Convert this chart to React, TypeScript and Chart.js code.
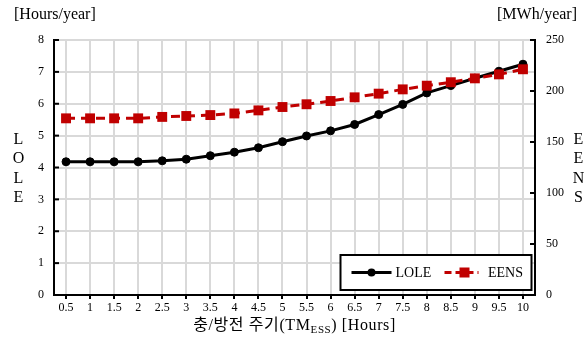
import React, { useEffect, useRef } from 'react';
import { Chart, registerables } from 'chart.js';

Chart.register(...registerables);

const categories = ['0.5', '1', '1.5', '2', '2.5', '3', '3.5', '4', '4.5', '5', '5.5', '6', '6.5', '7', '7.5', '8', '8.5', '9', '9.5', '10'];
const loleValues = [4.18, 4.18, 4.18, 4.18, 4.21, 4.26, 4.37, 4.48, 4.62, 4.81, 4.99, 5.15, 5.35, 5.66, 5.98, 6.34, 6.57, 6.8, 7.02, 7.24];
const eensValues = [173.2, 173.2, 173.2, 173.2, 174.6, 175.5, 176.4, 178, 181, 184.3, 187, 190.2, 193.8, 197.4, 201.6, 205.2, 208.6, 212.4, 216.3, 221.3];
const leftAxisMin = 0;
const leftAxisMax = 8;
const leftAxisStep = 1;
const rightAxisMin = 0;
const rightAxisMax = 250;
const rightAxisStep = 50;
const leftUnit = '[Hours/year]';
const rightUnit = '[MWh/year]';
const leftTitle = 'LOLE';
const rightTitle = 'EENS';
const xTitleMain = '충/방전 주기(TM';
const xTitleSub = 'ESS';
const xTitleTail = ') [Hours]';

const SERIF = "'Liberation Serif', 'Times New Roman', serif";
const XTITLE_FONT = "'Liberation Serif', 'Noto Sans CJK KR', serif";
const RED = '#c00000';

const decorPlugin = {
  id: 'decor',
  afterDraw(chart: any) {
    const { ctx, chartArea } = chart;
    const yScale = chart.scales.y;
    const y1Scale = chart.scales.y1;
    ctx.save();

    // inside tick marks
    ctx.strokeStyle = '#000';
    ctx.lineWidth = 2;
    yScale.ticks.forEach((t: any) => {
      const py = yScale.getPixelForValue(t.value);
      ctx.beginPath();
      ctx.moveTo(chartArea.left, py);
      ctx.lineTo(chartArea.left + 5, py);
      ctx.stroke();
    });
    y1Scale.ticks.forEach((t: any) => {
      const py = y1Scale.getPixelForValue(t.value);
      ctx.beginPath();
      ctx.moveTo(chartArea.right, py);
      ctx.lineTo(chartArea.right - 5, py);
      ctx.stroke();
    });

    // unit labels
    ctx.fillStyle = '#000';
    ctx.font = `16px ${SERIF}`;
    ctx.textBaseline = 'middle';
    ctx.textAlign = 'left';
    ctx.fillText(leftUnit, 14, 15);
    ctx.textAlign = 'right';
    ctx.fillText(rightUnit, 577, 15);

    // vertical stacked titles
    ctx.textAlign = 'center';
    const midY = (chartArea.top + chartArea.bottom) / 2 + 1.5;
    const sp = 19.5;
    for (let i = 0; i < leftTitle.length; i++) {
      ctx.fillText(leftTitle[i], 18.5, midY + (i - 1.5) * sp);
    }
    for (let i = 0; i < rightTitle.length; i++) {
      ctx.fillText(rightTitle[i], 578.5, midY + (i - 1.5) * sp);
    }

    // x title with subscript
    const mainFont = `16px ${XTITLE_FONT}`;
    const subFont = `11px ${XTITLE_FONT}`;
    (ctx as any).letterSpacing = '0.6px';
    ctx.font = mainFont;
    const w1 = ctx.measureText(xTitleMain).width;
    const w3 = ctx.measureText(xTitleTail).width;
    ctx.font = subFont;
    const w2 = ctx.measureText(xTitleSub).width;
    const total = w1 + w2 + w3;
    const cx = (chartArea.left + chartArea.right) / 2;
    let x = cx - total / 2;
    const ty = 326;
    ctx.textAlign = 'left';
    ctx.textBaseline = 'middle';
    ctx.font = mainFont;
    ctx.fillText(xTitleMain, x, ty);
    x += w1;
    ctx.font = subFont;
    ctx.fillText(xTitleSub, x, ty + 4.5);
    x += w2;
    ctx.font = mainFont;
    ctx.fillText(xTitleTail, x, ty);
    (ctx as any).letterSpacing = '0px';

    // legend box
    const ds = chart.data.datasets;
    const w = 191;
    const h = 35;
    const right = chartArea.right - 3.5;
    const bottom = chartArea.bottom - 5;
    const left = right - w;
    const top = bottom - h;
    ctx.fillStyle = '#fff';
    ctx.fillRect(left, top, w, h);
    ctx.strokeStyle = '#000';
    ctx.lineWidth = 2;
    ctx.strokeRect(left, top, w, h);
    const cy = top + h / 2;

    // LOLE sample
    ctx.strokeStyle = ds[0].borderColor;
    ctx.lineWidth = 3;
    ctx.beginPath();
    ctx.moveTo(left + 11, cy);
    ctx.lineTo(left + 51, cy);
    ctx.stroke();
    ctx.fillStyle = ds[0].borderColor;
    ctx.beginPath();
    ctx.arc(left + 31, cy, 4, 0, Math.PI * 2);
    ctx.fill();
    ctx.fillStyle = '#000';
    ctx.font = `14px ${SERIF}`;
    ctx.textAlign = 'left';
    ctx.textBaseline = 'middle';
    ctx.fillText(ds[0].label, left + 55, cy + 0.5);

    // EENS sample
    ctx.strokeStyle = ds[1].borderColor;
    ctx.lineWidth = 3;
    ctx.setLineDash([7, 4]);
    ctx.beginPath();
    ctx.moveTo(left + 104, cy);
    ctx.lineTo(left + 138, cy);
    ctx.stroke();
    ctx.setLineDash([]);
    ctx.fillStyle = ds[1].borderColor;
    ctx.fillRect(left + 124 - 5, cy - 5, 10, 10);
    ctx.fillStyle = '#000';
    ctx.fillText(ds[1].label, left + 147.5, cy + 0.5);

    ctx.restore();
  },
};

export default function App() {
  const canvasRef = useRef<HTMLCanvasElement | null>(null);

  useEffect(() => {
    document.body.style.margin = '0';
    const canvas = canvasRef.current;
    if (!canvas) return;
    const chart = new Chart(canvas, {
      type: 'line',
      data: {
        labels: categories,
        datasets: [
          {
            label: 'LOLE',
            data: loleValues,
            yAxisID: 'y',
            borderColor: '#000',
            backgroundColor: '#000',
            borderWidth: 3,
            pointStyle: 'circle',
            pointRadius: 4,
            pointBorderWidth: 1,
            pointBackgroundColor: '#000',
            pointBorderColor: '#000',
            tension: 0,
            order: 1,
          },
          {
            label: 'EENS',
            data: eensValues,
            yAxisID: 'y1',
            borderColor: RED,
            backgroundColor: RED,
            borderWidth: 3,
            borderDash: [9, 6],
            pointStyle: 'rect',
            pointRadius: 7,
            pointBorderWidth: 0,
            pointBackgroundColor: RED,
            pointBorderColor: RED,
            tension: 0,
            order: 0,
          },
        ],
      },
      options: {
        responsive: false,
        animation: false,
        layout: { padding: { top: 40, left: 0, right: 0, bottom: 0 } },
        plugins: {
          legend: { display: false },
          title: { display: false },
          tooltip: { enabled: false },
        },
        scales: {
          x: {
            type: 'category',
            offset: true,
            grid: {
              color: '#d9d9d9',
              lineWidth: 2,
              drawTicks: true,
              tickLength: 4,
              tickColor: '#000',
              tickWidth: 2,
            },
            border: { display: true, color: '#000', width: 2 },
            ticks: {
              color: '#000',
              font: { family: SERIF, size: 12 },
              padding: 2,
              maxRotation: 0,
              autoSkip: false,
            },
            afterFit(scale: any) {
              scale.height = 45;
            },
          },
          y: {
            position: 'left',
            min: leftAxisMin,
            max: leftAxisMax,
            grid: { color: '#d9d9d9', lineWidth: 2, drawTicks: false },
            border: { display: true, color: '#000', width: 2 },
            ticks: {
              stepSize: leftAxisStep,
              color: '#000',
              font: { family: SERIF, size: 12 },
              padding: 10,
            },
            afterFit(scale: any) {
              scale.width = 54;
            },
          },
          y1: {
            position: 'right',
            min: rightAxisMin,
            max: rightAxisMax,
            grid: { display: true, drawOnChartArea: false, drawTicks: false },
            border: { display: true, color: '#000', width: 2 },
            ticks: {
              stepSize: rightAxisStep,
              color: '#000',
              font: { family: SERIF, size: 12 },
              padding: 11,
            },
            afterFit(scale: any) {
              scale.width = 53;
            },
          },
        },
      },
      plugins: [decorPlugin],
    });
    return () => chart.destroy();
  }, []);

  return (
    <div style={{ width: 588, height: 340 }}>
      <canvas ref={canvasRef} width={588} height={340} style={{ display: 'block' }} />
    </div>
  );
}
